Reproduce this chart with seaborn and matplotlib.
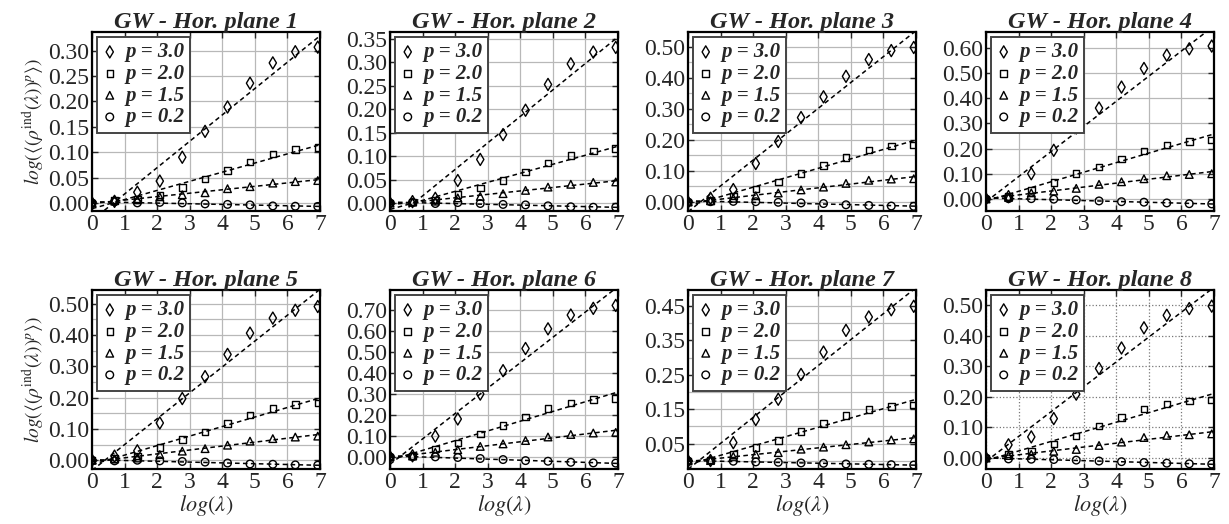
import matplotlib
matplotlib.use("Agg")
import matplotlib.pyplot as plt
import numpy as np
import seaborn as sns
from matplotlib.ticker import MultipleLocator, FormatStrFormatter

# log(lambda) for lambda = 1, 2, 4, ..., 1024
log_lam = [0.0, 0.69, 1.39, 2.08, 2.77, 3.47, 4.16, 4.85, 5.55, 6.24, 6.93]
p_labels = ["p = 3.0", "p = 2.0", "p = 1.5", "p = 0.2"]

# rows: p = 3.0, 2.0, 1.5, 0.2
plane1 = [[0, 0.003, 0.021, 0.043, 0.090, 0.141, 0.189, 0.236, 0.276, 0.298, 0.307],
          [0, 0.005, 0.008, 0.016, 0.030, 0.047, 0.064, 0.081, 0.096, 0.105, 0.109],
          [0, 0.006, 0.006, 0.012, 0.016, 0.020, 0.028, 0.032, 0.039, 0.042, 0.044],
          [0, 0.002, 0.000, 0.001, 0.000, -0.002, -0.003, -0.004, -0.006, -0.0066, -0.007]]
plane2 = [[0, 0.003, 0.010, 0.048, 0.093, 0.146, 0.198, 0.253, 0.297, 0.322, 0.332],
          [0, 0.002, 0.006, 0.018, 0.032, 0.048, 0.066, 0.085, 0.101, 0.111, 0.116],
          [0, 0.002, 0.004, 0.011, 0.014, 0.020, 0.027, 0.034, 0.040, 0.044, 0.045],
          [0, 0.001, -0.001, 0.001, -0.001, -0.003, -0.004, -0.006, -0.008, -0.009, -0.009]]
plane3 = [[0, 0.012, 0.040, 0.124, 0.195, 0.272, 0.339, 0.405, 0.459, 0.488, 0.498],
          [0, 0.005, 0.019, 0.042, 0.065, 0.092, 0.118, 0.144, 0.167, 0.180, 0.184],
          [0, 0.004, 0.012, 0.020, 0.029, 0.039, 0.048, 0.060, 0.070, 0.074, 0.075],
          [0, 0.001, 0.002, 0.001, -0.001, -0.003, -0.005, -0.009, -0.011, -0.013, -0.014]]
plane4 = [[0, 0.009, 0.100, 0.193, 0.282, 0.361, 0.444, 0.518, 0.571, 0.596, 0.607],
          [0, 0.009, 0.035, 0.065, 0.100, 0.127, 0.159, 0.191, 0.214, 0.228, 0.234],
          [0, 0.006, 0.024, 0.031, 0.042, 0.058, 0.068, 0.080, 0.092, 0.097, 0.100],
          [0, 0.001, 0.001, -0.001, -0.004, -0.008, -0.011, -0.013, -0.016, -0.019, -0.020]]
plane5 = [[0, 0.013, 0.030, 0.119, 0.197, 0.267, 0.338, 0.406, 0.454, 0.479, 0.491],
          [0, 0.005, 0.014, 0.041, 0.066, 0.090, 0.118, 0.145, 0.165, 0.178, 0.183],
          [0, 0.004, 0.007, 0.018, 0.029, 0.037, 0.048, 0.061, 0.069, 0.074, 0.077],
          [0, -0.002, 0.000, -0.002, -0.004, -0.006, -0.009, -0.012, -0.013, -0.015, -0.016]]
plane6 = [[0, 0.005, 0.099, 0.181, 0.300, 0.412, 0.518, 0.612, 0.678, 0.710, 0.724],
          [0, 0.005, 0.037, 0.067, 0.109, 0.151, 0.191, 0.231, 0.258, 0.274, 0.280],
          [0, 0.004, 0.022, 0.034, 0.050, 0.062, 0.078, 0.095, 0.107, 0.114, 0.117],
          [0, 0.001, 0.000, -0.003, -0.008, -0.013, -0.018, -0.021, -0.026, -0.029, -0.030]]
plane7 = [[0, 0.001, 0.053, 0.120, 0.179, 0.251, 0.316, 0.379, 0.418, 0.439, 0.449],
          [0, 0.002, 0.018, 0.039, 0.059, 0.086, 0.108, 0.132, 0.150, 0.158, 0.162],
          [0, 0.001, 0.013, 0.019, 0.024, 0.034, 0.040, 0.047, 0.055, 0.061, 0.064],
          [0, 0.000, -0.001, -0.003, -0.004, -0.006, -0.007, -0.009, -0.010, -0.011, -0.012]]
plane8 = [[0, 0.043, 0.069, 0.129, 0.209, 0.293, 0.360, 0.426, 0.467, 0.489, 0.497],
          [0, 0.013, 0.023, 0.046, 0.072, 0.104, 0.133, 0.160, 0.177, 0.186, 0.190],
          [0, 0.008, 0.012, 0.022, 0.028, 0.041, 0.052, 0.067, 0.074, 0.076, 0.079],
          [0, -0.003, -0.004, -0.005, -0.007, -0.010, -0.012, -0.015, -0.017, -0.019, -0.020]]
planes = [plane1, plane2, plane3, plane4, plane5, plane6, plane7, plane8]

ylims = [(-0.016, 0.337), (-0.017, 0.365), (-0.029, 0.548), (-0.048, 0.663),
         (-0.028, 0.544), (-0.058, 0.798), (-0.0235, 0.4965), (-0.036, 0.55)]
ymajor = [0.05, 0.05, 0.1, 0.1, 0.1, 0.1, 0.1, 0.1]
ymajor_offset = [0, 0, 0, 0, 0, 0, 0.05, 0]
yminor_grid = [False, False, True, False, True, False, True, False]

markers = ["d", "s", "^", "o"]
msizes = [38, 22, 30, 30]

sns.set_style("ticks")
plt.rcParams["font.family"] = ["Liberation Serif", "DejaVu Serif"]
plt.rcParams["mathtext.fontset"] = "stix"

fig, axes = plt.subplots(2, 4, figsize=(12.29, 5.24), dpi=100)
fig.subplots_adjust(left=0.0749, right=0.9878, top=0.939, bottom=0.105,
                    wspace=0.307, hspace=0.441)

for i, ax in enumerate(axes.flat):
    data = planes[i]
    ax.set_xlim(0, 7)
    for k in range(4):
        # least squares fit line over the whole x range
        sns.regplot(x=np.array(log_lam), y=np.array(data[k]), ax=ax, ci=None,
                    scatter=False, truncate=False,
                    line_kws={"color": "black", "lw": 1.1, "dashes": (3, 2.2)})
    for k in range(4):
        sns.scatterplot(x=log_lam, y=data[k], ax=ax, marker=markers[k], s=msizes[k],
                        facecolor="none", edgecolor="black", linewidth=1.0,
                        label=p_labels[k], zorder=4)

    ax.set_xlim(0, 7)
    ax.set_ylim(*ylims[i])
    ax.xaxis.set_major_locator(MultipleLocator(1))
    if ymajor_offset[i]:
        ax.set_yticks(np.arange(ymajor_offset[i], ylims[i][1], ymajor[i]))
    else:
        ax.yaxis.set_major_locator(MultipleLocator(ymajor[i]))
    ax.yaxis.set_major_formatter(FormatStrFormatter("%.2f"))
    if yminor_grid[i]:
        ax.yaxis.set_minor_locator(MultipleLocator(ymajor[i] / 2))
        ax.grid(True, which="minor", axis="y", color="#b8b8b8", lw=0.9)
    gls = ":" if i == 7 else "-"
    gcol = "#777777" if i == 7 else "#b8b8b8"
    ax.grid(True, which="major", color=gcol, lw=0.9, ls=gls)
    ax.set_axisbelow(True)
    ax.tick_params(axis="both", which="major", direction="in", top=True, right=True,
                   length=4, width=1, labelsize=17, pad=2)
    ax.tick_params(axis="y", which="minor", left=False, right=False)
    for sp in ax.spines.values():
        sp.set_linewidth(1.6)
        sp.set_color("black")

    ax.set_title("GW - Hor. plane %d" % (i + 1), fontsize=17.5, fontweight="bold",
                 fontstyle="italic", pad=3)
    ax.set_xlabel("")
    ax.set_ylabel("")
    if i % 4 == 0:
        ax.set_ylabel(r"$log(\langle(\rho^{\mathrm{ind}}(\lambda))^{p}\rangle)$", fontsize=14,
                      labelpad=1)
    if i >= 4:
        ax.set_xlabel(r"$log(\lambda)$", fontsize=16, labelpad=0)

    leg = ax.legend(loc="upper left", frameon=True, fancybox=False,
                    framealpha=1, edgecolor="#444444", borderpad=0.25,
                    labelspacing=0.08, handlelength=0.7, handletextpad=0.4,
                    borderaxespad=0.25, prop={"size": 15, "weight": "bold", "style": "italic"})
    leg.get_frame().set_linewidth(1.4)

fig.savefig("out.png", dpi=100)
